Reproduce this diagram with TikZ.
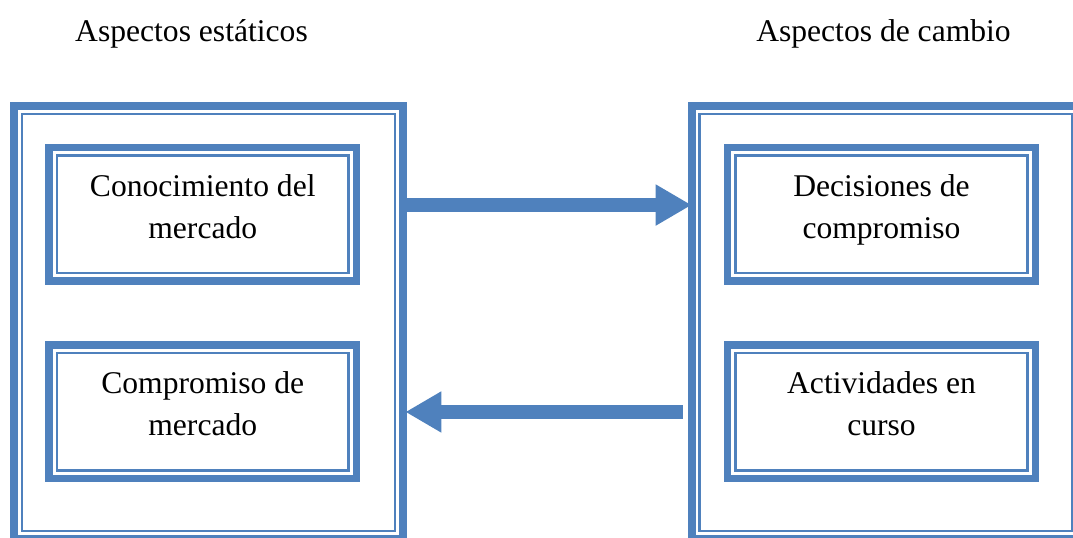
\documentclass[tikz,border=0pt]{standalone}
\usepackage{fontspec}
\setmainfont{Liberation Serif}
\usetikzlibrary{arrows.meta}
\definecolor{frameblue}{RGB}{79, 129, 189}

\begin{document}
\begin{tikzpicture}[
    x=0.75pt, y=-0.75pt,
    every node/.style={font=\fontsize{23.7}{31.5}\selectfont},
    bigbox/.style={draw=frameblue, line width=6pt, outer sep=0pt,
                   minimum width=291.5pt, minimum height=324.75pt},
    smallbox/.style={draw=frameblue, line width=5.6pt, outer sep=0pt,
                     minimum width=230.8pt, minimum height=100pt, align=center,
                     text height=48pt, text depth=12pt},
    innerframe/.style={draw=frameblue, line width=1.9pt},
    flow/.style={draw=frameblue, line width=10.5pt,
                 -{Triangle[length=27pt, width=29pt]}},
    title/.style={anchor=base}
]
    \useasboundingbox (0,0) rectangle (1073,537);
    \clip (0,0) rectangle (1073,537);

    % ==================== TITLES ====================
    \node[title] (statictitle) at (191.5,41) {Aspectos estáticos};
    \node[title] (changetitle) at (883.5,41) {Aspectos de cambio};

    % ==================== OUTER BOXES ====================
    \node[bigbox] (staticbox) at (208.5,322.5) {};
    \node[bigbox] (changebox) at (886,322.5) {};

    % ==================== INNER BOXES ====================
    \node[smallbox] (marketknow) at (202.75,214.25) {Conocimiento del\\mercado};
    \node[smallbox] (marketcommit) at (202.75,411.75) {Compromiso de\\mercado};
    \node[smallbox] (decisions) at (881.5,214.25) {Decisiones de\\compromiso};
    \node[smallbox] (activities) at (881.5,411.75) {Actividades en\\curso};

    % thin second line inside every frame
    \foreach \b in {staticbox, changebox, marketknow, marketcommit, decisions, activities}
        \draw[innerframe] ([shift={(8,8)}]\b.north west) rectangle ([shift={(-8,-8)}]\b.south east);

    % ==================== FLOWS ====================
    \draw[flow] ([yshift=88.1pt]staticbox.east) -- ([yshift=88.1pt]changebox.west);
    \draw[flow] ([xshift=-6.75pt, yshift=-67.1pt]changebox.west)
        -- ([xshift=1.9pt, yshift=-67.1pt]staticbox.east);
\end{tikzpicture}
\end{document}
